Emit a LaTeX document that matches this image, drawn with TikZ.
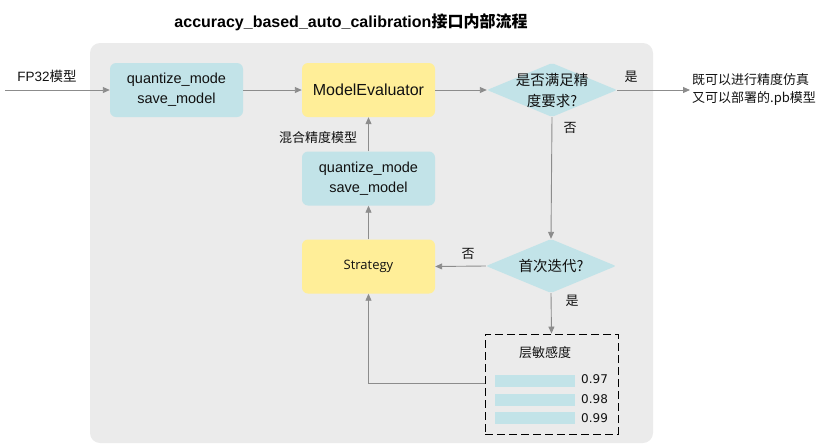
\documentclass[tikz,border=0pt]{standalone}
\usepackage{fontspec}
\setmainfont{Liberation Sans}
\newfontfamily\cjk{Noto Sans CJK SC}
\newfontfamily\strfont{Open Sans}
\newfontfamily\numfont{DejaVu Sans}
\usetikzlibrary{shapes.geometric,arrows.meta}
\definecolor{bgc}{HTML}{EBEBEB}
\definecolor{bluec}{HTML}{C2E3E8}
\definecolor{yelc}{HTML}{FFEE98}
\definecolor{arrc}{HTML}{8C8C8C}
\definecolor{txtc}{HTML}{111111}
\begin{document}
\begin{tikzpicture}[x=1pt,y=-1pt,
  box/.style={rounded corners=6pt,minimum width=133pt,minimum height=54pt,inner sep=0pt,align=center,font=\fontsize{14.5}{20}\selectfont,text=txtc},
  bluebox/.style={box,fill=bluec},
  yelbox/.style={box,fill=yelc},
  dia/.style={diamond,fill=bluec,minimum width=130pt,minimum height=54pt,inner sep=0pt,rounded corners=2pt},
  arr/.style={draw=arrc,line width=0.9pt,-{Triangle[length=7pt,width=6pt]}},
  lbl/.style={font=\fontsize{13}{15}\selectfont\cjk,text=txtc,inner sep=0pt},
  bar/.style={fill=bluec,minimum width=80pt,minimum height=12pt,inner sep=0pt},
  num/.style={font=\fontsize{12}{14}\numfont,text=txtc,inner sep=0pt,anchor=west}
]
\useasboundingbox (0,0) rectangle (823,445);
\fill[bgc,rounded corners=10pt] (90,43) rectangle (653,443);
\node[font=\bfseries\fontsize{16}{18}\selectfont,inner sep=0pt] (title) at (351,22) {accuracy\_based\_auto\_calibration{\cjk\bfseries 接口内部流程}};

\node[bluebox] (qs1) at (176.5,90) {quantize\_mode\\save\_model};
\node[yelbox,font=\fontsize{16}{20}\selectfont] (me) at (368.5,90) {ModelEvaluator};
\node[dia] (d1) at (552,90) {};
\node[lbl,align=center,font=\fontsize{14.5}{21}\selectfont\cjk] (d1t) at (552,91) {是否满足精\\度要求?};

\node[bluebox] (qs2) at (368.5,178.5) {quantize\_mode\\save\_model};
\node[yelbox,font=\fontsize{13}{15}\selectfont\strfont] (st) at (368.5,266.5) {Strategy};
\node[dia] (d2) at (551,266) {};
\node[lbl,font=\fontsize{14.5}{16}\selectfont\cjk] (d2t) at (551,266) {首次迭代?};

\node[draw=black,line width=0.9pt,dash pattern=on 8pt off 4pt,minimum width=133pt,minimum height=100pt,inner sep=0pt] (sens) at (551.5,384) {};
\node[lbl] (senst) at (545,353) {层敏感度};
\node[bar] (b1) at (535,381) {};
\node[bar] (b2) at (535,399.5) {};
\node[bar] (b3) at (535,418) {};
\node[num] (n1) at (581,379) {0.97};
\node[num] (n2) at (581,399) {0.98};
\node[num] (n3) at (581,418) {0.99};

\coordinate (in) at (5,90);
\coordinate (out) at (690,90);
\node[lbl,anchor=west,align=left,font=\fontsize{13}{18}\selectfont\cjk] (res) at (692,89) {既可以进行精度仿真\\又可以部署的.pb模型};
\node[lbl,font=\fontsize{13.5}{15}\selectfont] (fp) at (47,76) {FP32{\cjk 模型}};
\node[lbl] (yes1) at (631,77) {是};
\node[lbl] (no1) at (570,128) {否};
\node[lbl] (no2) at (468,254) {否};
\node[lbl] (yes2) at (572,301) {是};
\node[lbl] (mix) at (318,138) {混合精度模型};

\draw[arr] (in) -- (qs1.west);
\draw[arr] (qs1.east) -- (me.west);
\draw[arr] (me.east) -- (d1.west);
\draw[arr] (d1.east) -- (out);
\draw[arr] (d1.south) -- (d2.north);
\draw[arr] (d2.west) -- (st.east);
\draw[arr] (d2.south) -- (sens.north);
\coordinate (fb) at (sens.west |- 0,383);
\draw[arr] (fb) -| (st.south);
\draw[arr] (st.north) -- (qs2.south);
\draw[arr] (qs2.north) -- (me.south);
\end{tikzpicture}
\end{document}
